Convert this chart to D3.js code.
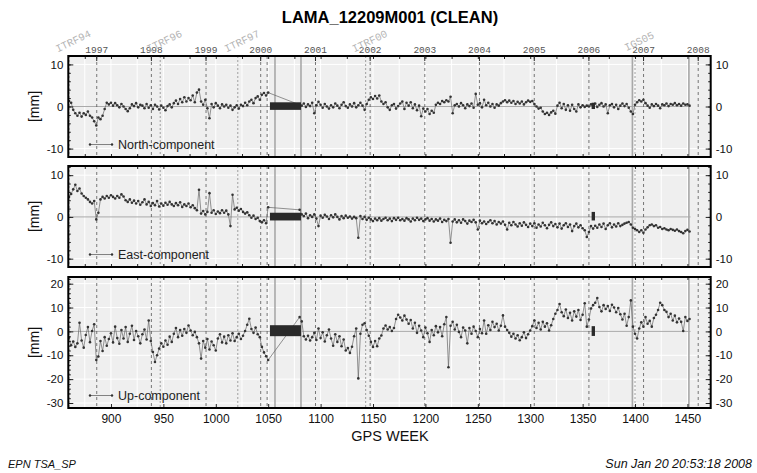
<!DOCTYPE html>
<html><head><meta charset="utf-8">
<script src="https://cdn.jsdelivr.net/npm/d3@7"></script>
<style>body{margin:0;background:#fff;} svg{display:block;font-family:"Liberation Sans",Arial,sans-serif;}</style>
</head><body><svg id="c" width="757" height="473"></svg>
<script>
// ---- DATA ----
const weeksBefore = d3.range(860, 1052, 2);   // 860..1050
const weeksAfter  = d3.range(1080, 1454, 2);  // 1080..1452
const weeks = weeksBefore.concat(weeksAfter);

const northValues = [
  // 860..1050
  1.3, 0.9, -0.8, -1.6, -2.2, -1.5, -2.4, -1.6, -2.0, -1.2,
  -2.2, -2.6, -3.5, -4.5, -2.6, -3.0, -2.2, -0.6, 0.9, 0.5,
  0.9, 0.2, 0.8, 0.3, -0.2, 0.6, 0.0, -0.6, -1.1, -0.4,
  0.5, 0.1, 0.8, -0.2, 0.4, 0.2, -0.4, 0.6, -0.3, 0.3,
  -0.6, 0.4, 0.0, -0.7, 0.2, -0.3, -0.9, 0.1, 0.5, -0.2,
  0.8, 1.4, 0.6, 1.8, 1.0, 2.2, 1.2, 2.0, 1.5, 2.6,
  1.0, 3.3, 4.0, 1.2, 0.4, 1.6, -0.4, -2.8, 0.6, -0.2,
  0.8, 0.2, -0.4, 0.5, 0.0, 0.4, -0.3, 0.2, -0.8, -0.2,
  0.3, -0.5, 0.4, 0.1, 0.9, 0.3, 1.2, 1.6, 0.8, 2.0,
  2.4, 1.6, 2.8, 3.2, 2.6, 3.3,
  // 1080..1452
  0.4, 0.2, 0.7, -0.1, 0.5, 0.1, 0.9, -1.6, 0.3, 1.1,
  0.4, -0.3, 0.6, 0.0, -0.5, 0.3, -0.2, 0.7, 0.2, -0.4,
  0.4, 1.0, 0.1, -0.3, 0.5, 0.0, 0.8, -0.2, 0.3, 0.9,
  0.2, -0.8, 0.6, 1.6, 2.2, 1.8, 2.5, 1.9, 2.6, 1.2,
  0.6, 1.0, -0.2, -0.8, 0.3, 0.6, -0.5, 0.1, 0.7, 1.2,
  -0.6, 0.9, 0.2, 1.0, -0.4, 0.5, -0.9, 0.2, -2.3, -0.5,
  -1.2, -0.6, -1.8, -1.0, -1.5, 0.4, 0.9, 0.6, 1.3, 1.0,
  1.5, 1.2, 2.3, -1.6, 0.3, 0.6, 0.0, 0.8, 0.3, -0.4,
  0.5, 0.1, 0.7, -0.3, 3.0, 0.4, 0.8, -0.2, 1.6, 0.3,
  0.9, 0.0, 0.6, -0.3, 0.5, 0.2, 0.8, 1.2, 1.5, 1.0,
  1.4, 0.9, 1.3, 0.6, 1.1, 0.7, 1.2, 0.5, 1.0, 1.4,
  1.1, 1.3, 0.6, 0.0, -0.5, -0.3, -1.2, -1.8, -1.5, -2.0,
  -1.4, -1.0, -1.7, 0.2, 0.9, -0.4, 0.6, -0.8, 0.3, -1.0,
  0.4, -0.6, -1.2, 0.5, -0.2, 0.3, -0.1, 0.2, 0.0, 0.5,
  0.2, 0.7, -0.1, 0.4, 0.8, 0.0, 0.5, -1.6, 0.3, 0.6,
  -0.2, 0.4, -0.6, 0.2, 0.7, 0.1, 0.6, -0.3, -1.2, -1.8,
  0.4, 1.0, 1.5, 1.2, 1.6, 0.8, 0.2, -0.3, 0.5, 0.1,
  0.6, 0.2, -0.4, 0.5, 0.3, 0.7, 0.1, 0.6, 0.4, 0.8,
  0.3, 0.6, 0.2, 0.7, 0.4, 0.5, 0.2
];

const eastValues = [
  // 860..1050
  4.8, 5.5, 6.6, 7.7, 6.2, 6.8, 5.6, 5.0, 4.6, 4.2,
  3.6, 3.2, 3.8, -0.6, 1.0, 4.2, 4.8, 4.4, 5.0, 4.6,
  5.2, 4.8, 4.4, 5.0, 4.6, 5.4, 4.9, 4.0, 3.6, 4.2,
  3.4, 3.9, 3.2, 3.8, 2.9, 3.5, 4.2, 3.0, 3.6, 2.6,
  3.3, 2.8, 3.8, 2.5, 3.2, 2.7, 3.4, 2.9, 3.6, 3.0,
  2.6, 3.3, 2.8, 3.5, 2.4, 3.0, 2.6, 3.2, 2.3, 2.8,
  2.1, 1.6, 6.5, 0.8, 1.4, 0.6, 1.2, 5.7, 1.0, 1.6,
  0.7, 1.3, 0.9, 1.6, 1.0, 1.5, 0.6, -2.2, 5.3, 1.8,
  2.2, 1.5, 1.9, 1.2, 0.8, 1.1, 0.4, -0.2, 0.3, -0.5,
  -0.2, -1.0, -1.3, -0.8, -1.5, 2.3,
  // 1080..1452
  1.7, 0.6, 0.2, 0.8, -0.3, 0.4, 0.0, 0.6, -0.4, -2.2,
  0.3, -0.2, 0.5, 0.1, -0.5, 0.4, -0.1, 0.6, 0.0, -0.6,
  0.2, -0.3, 0.3, -0.2, 0.1, -0.4, 0.0, -0.3, -5.0, 0.2,
  -0.5, 0.0, -0.7, -0.2, -0.6, -1.0, -0.4, -0.8, -0.3, -0.9,
  -0.5, -0.2, -0.8, -0.4, -1.0, -0.3, -0.7, -0.2, -0.8, -0.5,
  -0.9, -0.3, -0.6, -1.1, -0.4, -0.8, -0.2, -0.7, -0.4, -1.0,
  -0.6, -0.3, -0.9, -0.5, -1.1, -0.6, -0.9, -0.4, -1.2, -0.7,
  -1.0, -0.5, -6.2, -1.1, -0.6, -1.3, -0.8, -1.4, -0.6, -1.0,
  -1.6, -0.9, -1.2, -0.7, -1.3, -3.0, -0.9, -1.5, -1.1, -1.7,
  -1.2, -0.8, -1.5, -1.0, -1.8, -1.2, -1.6, -1.1, -1.9, -3.0,
  -1.4, -2.0, -1.2, -1.8, -2.3, -1.5, -2.1, -1.3, -1.9, -2.4,
  -1.6, -2.2, -1.5, -2.6, -1.8, -2.3, -1.4, -2.0, -2.7, -1.9,
  -1.3, -2.2, -1.7, -2.5, -1.6, -2.8, -2.0, -1.5, -2.4, -1.8,
  -3.4, -2.2, -1.6, -2.5, -2.0, -2.7, -3.2, -4.8, -3.6, -2.2,
  -2.8, -2.1, -2.6, -1.8, -2.4, -1.6, -2.9, -2.0, -1.5, -2.5,
  -1.8, -2.3, -1.5, -2.2, -1.9, -1.6, -1.4, -1.2, -1.8, -2.6,
  -2.9, -3.2, -3.6, -3.2, -3.8, -3.0, -2.5, -2.0, -1.8, -2.2,
  -2.0, -2.6, -2.4, -2.9, -2.7, -3.0, -3.2, -2.9, -3.1, -3.3,
  -3.0, -3.4, -3.6, -3.9, -3.4, -3.1, -3.5
];

const upValues = [
  // 860..1050
  -2.6, -5.8, -4.2, -6.5, -5.0, 3.6, -3.8, -6.8, -1.5, 1.8,
  -4.5, 0.2, 3.0, -12.0, -10.5, -4.0, -8.2, -2.4, -6.0, -3.2,
  -0.8, -4.6, 2.0, -2.8, -5.2, 0.6, -3.0, 1.8, -4.4, -1.0,
  2.4, -3.6, 0.2, -2.0, -5.0, -1.2, 0.8, -3.4, 4.6, -4.0,
  -8.6, -12.8, -10.0, -7.2, -5.0, -6.4, -3.8, -5.6, -2.2, -4.4,
  -1.0, 1.4, -2.4, 0.6, -1.8, 1.0, -0.6, 2.5, 0.4, -1.6,
  -0.2, -2.4, -5.0, -11.4, -4.0, -6.8, -3.2, -7.6, -4.2, -5.8,
  -8.0, -3.0, -1.2, -4.6, -2.2, -5.0, -1.6, -3.8, -0.8, -4.0,
  -2.4, -1.0, -3.2, -1.8, 0.2, 2.8, 5.3, 1.0, -0.6, 1.6,
  -1.2, -2.4, -6.5, -8.8, -10.4, -12.0,
  // 1080..1452
  6.0, 4.2, -2.0, -3.4, -1.8, -3.8, -2.4, -0.6, -3.6, 1.2,
  -2.8, -0.4, -4.2, -1.6, 0.8, -3.0, -6.0, -1.2, -4.4, -2.0,
  -6.2, -3.4, -8.0, -7.0, -9.0, -6.4, -2.0, 1.2, -19.7, -1.0,
  2.8, 3.4, 0.6, -1.8, -4.4, -6.5, -4.0, -6.2, -3.0, -1.7,
  1.2, 2.5, 0.8, 1.8, 0.2, 1.4, 5.2, 7.0, 5.8, 4.6,
  6.6, 5.0, 3.2, 4.8, 1.2, 3.6, -0.6, 2.4, 0.4, -2.4,
  1.6, -0.8, -4.4, 0.6, -1.6, 2.2, -0.4, 1.8, -2.0, 3.0,
  6.0, -15.0, 2.4, 4.0, 0.8, 2.8, -0.2, -2.4, 1.6, 0.4,
  -5.0, 1.4, -1.0, 2.0, 0.2, -2.4, 1.0, -0.8, 4.6, -1.0,
  2.6, 0.6, 4.0, 1.8, 3.2, 0.4, 2.4, 6.7, 2.0, 0.6,
  -0.6, -2.2, -1.0, -3.0, -1.6, -3.7, -2.4, -0.4, -2.8, -1.2,
  0.4, 2.2, 4.6, 1.4, 3.6, 0.8, 4.0, 2.0, 3.4, 0.4,
  2.6, 5.2, 7.4, 9.0, 11.5, 8.0, 6.4, 9.2, 5.6, 7.8,
  4.6, 8.4, 6.2, 9.0, 4.8, 7.0, 11.8, 2.0, 5.0, 9.6,
  11.0, 12.0, 14.0, 10.2, 8.4, 11.0, 9.4, 10.6, 8.6, 11.2,
  10.0, 8.0, 9.8, 7.2, 5.0, 7.4, 2.4, 6.0, 13.0, 2.0,
  -1.0, -3.0, 1.2, 3.8, 2.0, 6.0, 3.2, 4.4, 2.0, 5.6,
  7.0, 9.0, 12.0, 11.0, 9.0, 8.2, 6.0, 7.4, 4.6, 6.6,
  3.8, 5.4, 4.0, 0.2, 6.0, 4.4, 5.2
];

const componentNames = ["North-component", "East-component", "Up-component"];
const yTicksNE = [-10, 0, 10];
const yTicksUp = [-30, -20, -10, 0, 10, 20];
const xTickWeeks = d3.range(900, 1451, 50);
const gridWeeks = d3.range(875, 1475, 25);
const yearLabels = ["1997","1998","1999","2000","2001","2002","2003","2004","2005","2006","2007","2008"];
const yearWeeks = [886.43, 938.57, 990.71, 1042.86, 1095.14, 1147.29, 1199.43, 1251.57, 1303.86, 1356.0, 1408.14, 1460.29];
const frameLabels = ["ITRF94","ITRF96","ITRF97","ITRF00","IGS05"];
const frameWeeks = [860, 947, 1021, 1143, 1400];
const otherDashedWeeks = [1049];
const eventWeeks = [1056.5, 1081.3, 1397.5, 1451.4];
const blockStart = [1051.7, 1358.6];
const blockEnd = [1081.3, 1361.8];
const blockHighN = [1.0, 0.9], blockLowN = [-0.8, -0.6];
const blockHighE = [1.0, 1.2], blockLowE = [-0.85, -0.85];
const blockHighU = [2.6, 2.2], blockLowU = [-2.0, -1.9];
const zeroLineWeeks = [860, 1453];

// ---- DRAW ----
const svg = d3.select("#c");
const x = d3.scaleLinear().domain([859.3, 1472.2]).range([68.3, 710.7]);

const panels = [
  {name: componentNames[0], values: northValues, domain: [-12, 12], ticks: yTicksNE, minor: d3.range(-12, 13, 2),
   top: 56, bottom: 157, bh: blockHighN, bl: blockLowN},
  {name: componentNames[1], values: eastValues, domain: [-12, 12.2], ticks: yTicksNE, minor: d3.range(-12, 13, 2),
   top: 166, bottom: 267, bh: blockHighE, bl: blockLowE},
  {name: componentNames[2], values: upValues, domain: [-32.1, 22.8], ticks: yTicksUp, minor: d3.range(-32, 23, 2),
   top: 277, bottom: 408, bh: blockHighU, bl: blockLowU}
];

const x0 = x.range()[0], x1 = x.range()[1];
const fmt = d => String(d);

panels.forEach((p, i) => {
  const y = d3.scaleLinear().domain(p.domain).range([p.bottom, p.top]);
  const g = svg.append("g");
  const clipId = "clip" + i;
  svg.append("clipPath").attr("id", clipId).append("rect")
    .attr("x", x0).attr("y", p.top).attr("width", x1 - x0).attr("height", p.bottom - p.top);
  const inner = g.append("g").attr("clip-path", `url(#${clipId})`);

  inner.append("rect").attr("x", x0).attr("y", p.top).attr("width", x1 - x0).attr("height", p.bottom - p.top)
    .attr("fill", "#efefef");
  // white grid
  inner.selectAll(".vg").data(gridWeeks).join("line")
    .attr("x1", d => x(d)).attr("x2", d => x(d)).attr("y1", p.top).attr("y2", p.bottom)
    .attr("stroke", "#fff").attr("stroke-width", 1);
  inner.selectAll(".hg").data(p.ticks.filter(t => t !== 0)).join("line")
    .attr("x1", x0).attr("x2", x1).attr("y1", d => y(d)).attr("y2", d => y(d))
    .attr("stroke", "#fff").attr("stroke-width", 1);
  // zero line
  inner.append("line").attr("x1", x(zeroLineWeeks[0])).attr("x2", x(zeroLineWeeks[1]))
    .attr("y1", y(0)).attr("y2", y(0)).attr("stroke", "#aaa").attr("stroke-width", 1);
  // reference frame change lines
  inner.selectAll(".fl").data(frameWeeks).join("line")
    .attr("x1", d => x(d)).attr("x2", d => x(d)).attr("y1", p.top).attr("y2", p.bottom)
    .attr("stroke", "#8a8a8a").attr("stroke-width", 0.8).attr("stroke-dasharray", "2,2");
  // year lines
  inner.selectAll(".yl").data(yearWeeks.concat(otherDashedWeeks)).join("line")
    .attr("x1", d => x(d)).attr("x2", d => x(d)).attr("y1", p.top).attr("y2", p.bottom)
    .attr("stroke", "#555").attr("stroke-width", 0.8).attr("stroke-dasharray", "3,3");
  // event lines
  inner.selectAll(".el").data(eventWeeks).join("line")
    .attr("x1", d => x(d)).attr("x2", d => x(d)).attr("y1", p.top).attr("y2", p.bottom)
    .attr("stroke", "#a8a8a8").attr("stroke-width", 1.6);

  const pts = weeks.map((w, k) => [w, p.values[k]]).filter(d => d[1] !== undefined);
  inner.append("path").datum(pts)
    .attr("d", d3.line().x(d => x(d[0])).y(d => y(d[1])))
    .attr("fill", "none").attr("stroke", "#666").attr("stroke-width", 0.7);
  inner.selectAll(".pt").data(pts).join("circle")
    .attr("cx", d => x(d[0])).attr("cy", d => y(d[1])).attr("r", 1.3).attr("fill", "#333");

  // blocks
  inner.selectAll(".blk").data(blockStart).join("rect")
    .attr("x", (d, k) => x(d)).attr("width", (d, k) => x(blockEnd[k]) - x(d))
    .attr("y", (d, k) => y(p.bh[k])).attr("height", (d, k) => y(p.bl[k]) - y(p.bh[k]))
    .attr("fill", "#2a2a2a");

  // legend
  const ly = p.bottom - 12.5;
  g.append("line").attr("x1", 90).attr("x2", 112).attr("y1", ly).attr("y2", ly)
    .attr("stroke", "#666").attr("stroke-width", 0.8);
  g.selectAll(".lm").data([90, 112]).join("circle").attr("cx", d => d).attr("cy", ly).attr("r", 1.2).attr("fill", "#333");
  g.append("text").attr("x", 118).attr("y", ly).attr("dy", "0.35em")
    .attr("font-size", 12.5).attr("fill", "#222").text(p.name);

  // axes
  const left = g.append("g").attr("transform", `translate(${x0},0)`)
    .call(d3.axisLeft(y).tickValues(p.ticks).tickSizeInner(-5).tickSizeOuter(0).tickPadding(5).tickFormat(fmt));
  const right = g.append("g").attr("transform", `translate(${x1},0)`)
    .call(d3.axisRight(y).tickValues(p.ticks).tickSizeInner(-5).tickSizeOuter(0).tickPadding(5).tickFormat(fmt));
  const lm = g.append("g").attr("transform", `translate(${x0},0)`)
    .call(d3.axisLeft(y).tickValues(p.minor).tickSizeInner(-2.5).tickSizeOuter(0).tickFormat(""));
  const rm = g.append("g").attr("transform", `translate(${x1},0)`)
    .call(d3.axisRight(y).tickValues(p.minor).tickSizeInner(-2.5).tickSizeOuter(0).tickFormat(""));
  const tp = g.append("g").attr("transform", `translate(0,${p.top})`)
    .call(d3.axisTop(x).tickValues(gridWeeks.filter(w => w < 1472)).tickSizeInner(-3).tickSizeOuter(0).tickFormat(""));
  const bt = g.append("g").attr("transform", `translate(0,${p.bottom})`)
    .call(i === 2
      ? d3.axisBottom(x).tickValues(xTickWeeks).tickSizeInner(-4).tickSizeOuter(0).tickPadding(6).tickFormat(fmt)
      : d3.axisBottom(x).tickValues(gridWeeks.filter(w => w < 1472)).tickSizeInner(-3).tickSizeOuter(0).tickFormat(""));
  [left, right, lm, rm, tp, bt].forEach(a => {
    a.select(".domain").remove();
    a.selectAll("text").attr("font-size", i === 2 && a === bt ? 12 : 11.5)
      .attr("font-family", "Liberation Sans, Arial, sans-serif").attr("fill", "#111");
    a.selectAll("line").attr("stroke", "#222");
  });
  if (i === 2) {
    bt.selectAll(".tick").filter(d => xTickWeeks.includes(d)).select("line").attr("y2", -4);
  }

  // frame
  g.append("rect").attr("x", x0).attr("y", p.top).attr("width", x1 - x0).attr("height", p.bottom - p.top)
    .attr("fill", "none").attr("stroke", "#000").attr("stroke-width", 2);

  // y label
  g.append("text").attr("transform", `translate(34,${(p.top + p.bottom) / 2}) rotate(-90)`)
    .attr("text-anchor", "middle").attr("dy", "0.35em").attr("font-size", 14).attr("fill", "#111").text("[mm]");
});

// top year labels + ticks
const topG = svg.append("g");
topG.selectAll(".yr").data(yearWeeks).join("text")
  .attr("x", d => x(d)).attr("y", 52.5).attr("text-anchor", "middle")
  .attr("font-family", "Liberation Mono, DejaVu Sans Mono, monospace").attr("font-size", 9.5)
  .attr("fill", "#555").text((d, k) => yearLabels[k]);
topG.selectAll(".yt").data(yearWeeks).join("line")
  .attr("x1", d => x(d)).attr("x2", d => x(d)).attr("y1", 56).attr("y2", 61)
  .attr("stroke", "#222").attr("stroke-width", 1);
// reference frame labels
topG.selectAll(".fr").data(frameWeeks).join("text")
  .attr("transform", d => `translate(${x(d) + 4},${41}) rotate(-26)`)
  .attr("text-anchor", "middle").attr("dy", "0.35em")
  .attr("font-family", "Liberation Mono, DejaVu Sans Mono, monospace").attr("font-size", 10.5)
  .attr("fill", "#b4b4b4").text((d, k) => frameLabels[k]);

// title
svg.append("text").attr("x", 390).attr("y", 22.5).attr("text-anchor", "middle")
  .attr("font-weight", "bold").attr("font-size", 16.5).attr("fill", "#000").text("LAMA_12209M001 (CLEAN)");
// x title
svg.append("text").attr("x", 390).attr("y", 441).attr("text-anchor", "middle")
  .attr("font-size", 14.5).attr("fill", "#111").text("GPS WEEK");
// footer
svg.append("text").attr("x", 8).attr("y", 468).attr("font-style", "italic")
  .attr("font-size", 11).attr("fill", "#111").text("EPN TSA_SP");
svg.append("text").attr("x", 752).attr("y", 468).attr("text-anchor", "end").attr("font-style", "italic")
  .attr("font-size", 12.5).attr("fill", "#111").text("Sun Jan 20 20:53:18 2008");
</script></body></html>
